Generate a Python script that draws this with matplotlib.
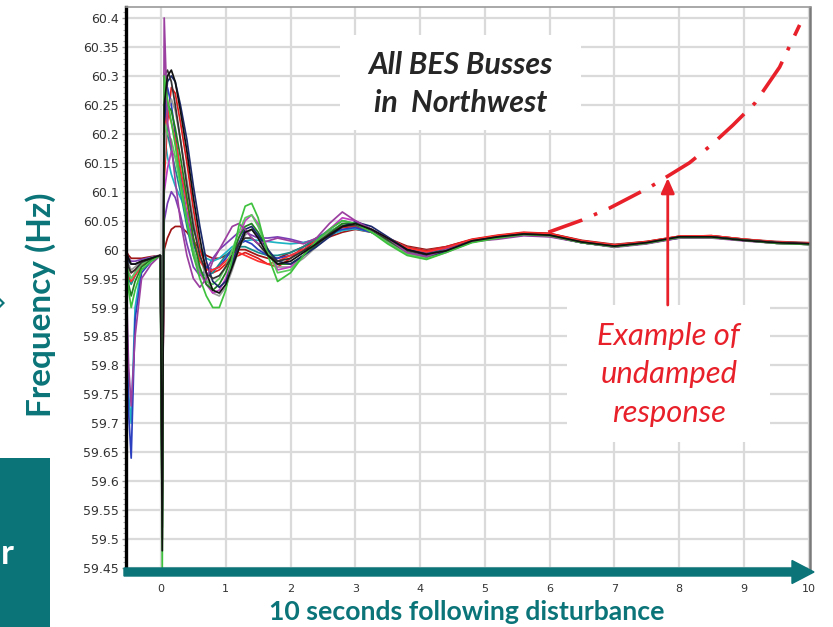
import matplotlib
matplotlib.use("Agg")
import matplotlib.pyplot as plt
from matplotlib.patches import FancyArrow, Rectangle, Polygon
from matplotlib.transforms import IdentityTransform
from matplotlib.ticker import MultipleLocator

# ---------------- data ----------------
time_s = [-0.55, -0.50, -0.46, -0.40, -0.30, -0.15, -0.01, 0.02, 0.05,
          0.10, 0.16, 0.22, 0.30, 0.40, 0.50, 0.60, 0.70, 0.80, 0.90,
          1.0, 1.1, 1.2, 1.3, 1.4, 1.5, 1.65, 1.8, 2.0, 2.2, 2.4, 2.6, 2.8,
          3.0, 3.25, 3.5, 3.8, 4.1, 4.4, 4.8, 5.2, 5.6, 6.0, 6.5, 7.0, 7.5,
          8.0, 8.5, 9.0, 9.5, 10.0]

freq_black = [60.0, 59.985, 59.975, 59.975, 59.98, 59.985, 59.99, 59.48, 60.25,
              60.30, 60.31, 60.29, 60.24, 60.17, 60.09, 60.02, 59.96, 59.93, 59.925,
              59.94, 59.97, 60.0, 60.03, 60.035, 60.02, 59.99, 59.975, 59.98, 59.995, 60.01, 60.025, 60.04,
              60.045, 60.035, 60.02, 60.0, 59.992, 59.998, 60.015, 60.022, 60.027, 60.025, 60.013, 60.006, 60.012,
              60.022, 60.022, 60.016, 60.012, 60.01]
freq_red = [60.0, 59.97, 59.96, 59.965, 59.975, 59.985, 59.99, 59.6, 60.12,
            60.22, 60.28, 60.27, 60.22, 60.15, 60.07, 60.0, 59.97, 59.96, 59.965,
            59.975, 59.985, 59.99, 59.995, 59.99, 59.985, 59.975, 59.97, 59.985, 60.005, 60.02, 60.03, 60.038,
            60.04, 60.03, 60.018, 60.004, 59.998, 60.005, 60.018, 60.025, 60.03, 60.028, 60.015, 60.008, 60.014,
            60.023, 60.024, 60.018, 60.013, 60.011]
freq_green = [60.0, 59.93, 59.90, 59.93, 59.965, 59.98, 59.99, 59.45, 60.30,
              60.26, 60.22, 60.18, 60.12, 60.05, 59.99, 59.95, 59.92, 59.90, 59.90,
              59.93, 59.985, 60.04, 60.075, 60.08, 60.055, 59.99, 59.945, 59.96, 59.99, 60.015, 60.035, 60.05,
              60.045, 60.03, 60.01, 59.99, 59.983, 59.995, 60.012, 60.02, 60.026, 60.024, 60.012, 60.005, 60.011,
              60.021, 60.021, 60.016, 60.011, 60.009]
freq_purple = [60.0, 59.8, 59.73, 59.85, 59.95, 59.975, 59.99, 59.57, 60.40,
               60.22, 60.18, 60.12, 60.05, 59.99, 59.95, 59.935, 59.95, 59.98, 60.0,
               60.02, 60.04, 60.045, 60.035, 60.02, 60.01, 60.015, 60.02, 60.015, 60.01, 60.02, 60.045, 60.065,
               60.05, 60.035, 60.02, 59.995, 59.988, 60.0, 60.014, 60.018, 60.024, 60.022, 60.012, 60.004, 60.01,
               60.02, 60.02, 60.015, 60.011, 60.009]
freq_blue = [60.0, 59.72, 59.64, 59.88, 59.96, 59.98, 59.99, 59.7, 60.18,
             60.28, 60.25, 60.2, 60.13, 60.06, 60.01, 59.98, 59.97, 59.965, 59.97,
             59.985, 60.0, 60.01, 60.015, 60.01, 60.0, 59.99, 59.985, 59.99, 60.0, 60.015, 60.028, 60.035,
             60.038, 60.03, 60.015, 60.0, 59.995, 60.003, 60.016, 60.022, 60.026, 60.024, 60.014, 60.007, 60.012,
             60.02, 60.021, 60.016, 60.012, 60.01]
freq_cyan = [60.0, 59.75, 59.70, 59.9, 59.97, 59.985, 59.99, 59.65, 60.2,
             60.16, 60.13, 60.11, 60.09, 60.065, 60.035, 60.005, 59.985, 59.98, 59.985,
             59.995, 60.005, 60.01, 60.015, 60.017, 60.016, 60.014, 60.012, 60.01, 60.012, 60.018, 60.025, 60.033,
             60.036, 60.03, 60.018, 60.004, 59.998, 60.004, 60.017, 60.023, 60.027, 60.025, 60.014, 60.008, 60.013,
             60.021, 60.022, 60.017, 60.013, 60.011]
freq_navy = [60.0, 59.98, 59.975, 59.975, 59.98, 59.985, 59.99, 59.55, 60.22,
             60.29, 60.30, 60.29, 60.25, 60.19, 60.11, 60.04, 59.98, 59.945, 59.935,
             59.945, 59.975, 60.01, 60.035, 60.04, 60.025, 60.0, 59.98, 59.975, 59.99, 60.005, 60.022, 60.04,
             60.048, 60.04, 60.022, 60.0, 59.99, 59.996, 60.014, 60.021, 60.026, 60.024, 60.012, 60.005, 60.011,
             60.021, 60.022, 60.016, 60.012, 60.01]
freq_magenta = [60.0, 59.96, 59.95, 59.96, 59.975, 59.985, 59.99, 59.6, 60.1,
                60.14, 60.17, 60.16, 60.12, 60.06, 60.0, 59.96, 59.94, 59.925, 59.93,
                59.95, 59.98, 60.02, 60.05, 60.06, 60.045, 60.0, 59.965, 59.97, 59.99, 60.01, 60.035, 60.055,
                60.05, 60.035, 60.015, 59.993, 59.985, 59.995, 60.013, 60.02, 60.025, 60.024, 60.012, 60.005, 60.011,
                60.021, 60.021, 60.016, 60.011, 60.009]
freq_darkred = [60.0, 59.99, 59.985, 59.985, 59.985, 59.988, 59.99, 59.7, 60.0,
                60.02, 60.035, 60.04, 60.04, 60.03, 60.015, 60.0, 59.99, 59.985, 59.985,
                59.99, 59.995, 60.0, 60.0, 59.995, 59.99, 59.985, 59.985, 59.995, 60.005, 60.015, 60.022, 60.03,
                60.035, 60.03, 60.02, 60.006, 60.0, 60.005, 60.017, 60.024, 60.029, 60.028, 60.016, 60.009, 60.014,
                60.023, 60.024, 60.018, 60.014, 60.012]
freq_teal = [60.0, 59.95, 59.94, 59.955, 59.975, 59.985, 59.99, 59.62, 60.25,
             60.2, 60.17, 60.14, 60.1, 60.04, 59.99, 59.96, 59.955, 59.96, 59.975,
             59.99, 60.0, 60.005, 60.005, 60.0, 59.995, 59.99, 59.99, 59.995, 60.005, 60.02, 60.032, 60.042,
             60.042, 60.033, 60.018, 60.0, 59.993, 60.0, 60.015, 60.022, 60.027, 60.025, 60.013, 60.006, 60.012,
             60.022, 60.023, 60.017, 60.012, 60.01]
freq_gray = [60.0, 59.975, 59.965, 59.97, 59.98, 59.986, 59.99, 59.65, 60.15,
             60.24, 60.26, 60.24, 60.19, 60.12, 60.05, 59.99, 59.95, 59.925, 59.92,
             59.935, 59.965, 60.0, 60.025, 60.035, 60.025, 59.995, 59.97, 59.97, 59.985, 60.005, 60.025, 60.042,
             60.045, 60.035, 60.018, 59.998, 59.99, 59.997, 60.014, 60.021, 60.026, 60.024, 60.013, 60.006, 60.012,
             60.021, 60.022, 60.016, 60.012, 60.01]
freq_darkgreen = [60.0, 59.94, 59.92, 59.945, 59.97, 59.983, 59.99, 59.52, 60.28,
                  60.25, 60.24, 60.21, 60.16, 60.09, 60.02, 59.97, 59.94, 59.93, 59.94,
                  59.96, 59.99, 60.02, 60.04, 60.045, 60.03, 60.0, 59.975, 59.975, 59.99, 60.008, 60.028, 60.045,
                  60.046, 60.035, 60.016, 59.996, 59.988, 59.997, 60.013, 60.021, 60.026, 60.024, 60.012, 60.005, 60.011,
                  60.021, 60.021, 60.016, 60.011, 60.009]
freq_violet = [60.0, 59.985, 59.98, 59.98, 59.983, 59.987, 59.99, 59.66, 60.05,
               60.08, 60.1, 60.09, 60.06, 60.01, 59.97, 59.955, 59.965, 59.985, 60.0,
               60.01, 60.02, 60.03, 60.03, 60.025, 60.02, 60.02, 60.022, 60.018, 60.012, 60.018, 60.035, 60.05,
               60.045, 60.032, 60.017, 59.997, 59.99, 59.998, 60.014, 60.02, 60.025, 60.023, 60.012, 60.005, 60.011,
               60.02, 60.021, 60.016, 60.011, 60.009]
freq_black2 = [60.0, 59.97, 59.96, 59.965, 59.978, 59.985, 59.99, 59.5, 60.3,
               60.31, 60.29, 60.25, 60.19, 60.11, 60.04, 59.99, 59.96, 59.95, 59.955,
               59.97, 59.99, 60.01, 60.02, 60.02, 60.01, 59.99, 59.98, 59.985, 59.998, 60.012, 60.027, 60.04,
               60.043, 60.034, 60.018, 59.999, 59.992, 59.999, 60.015, 60.022, 60.027, 60.025, 60.013, 60.006, 60.012,
               60.022, 60.022, 60.017, 60.012, 60.01]
freq_red2 = [60.0, 59.955, 59.945, 59.955, 59.973, 59.984, 59.99, 59.58, 60.2,
             60.24, 60.22, 60.19, 60.14, 60.08, 60.02, 59.98, 59.965, 59.965, 59.97,
             59.98, 59.99, 59.995, 59.99, 59.985, 59.98, 59.975, 59.98, 59.99, 60.0, 60.015, 60.03, 60.04,
             60.043, 60.035, 60.02, 60.003, 59.996, 60.003, 60.017, 60.024, 60.029, 60.027, 60.015, 60.008, 60.013,
             60.023, 60.024, 60.018, 60.013, 60.011]
freq_green2 = [60.0, 59.96, 59.95, 59.96, 59.975, 59.985, 59.99, 59.62, 60.22,
               60.2, 60.19, 60.16, 60.11, 60.05, 60.0, 59.965, 59.945, 59.94, 59.95,
               59.97, 60.0, 60.03, 60.055, 60.06, 60.04, 60.0, 59.96, 59.965, 59.99, 60.012, 60.03, 60.045,
               60.045, 60.032, 60.012, 59.992, 59.985, 59.996, 60.013, 60.021, 60.026, 60.024, 60.012, 60.005, 60.011,
               60.021, 60.021, 60.016, 60.011, 60.009]

traces = [freq_darkred, freq_violet, freq_cyan, freq_red, freq_teal, freq_blue,
          freq_gray, freq_red2, freq_magenta, freq_green2, freq_darkgreen,
          freq_navy, freq_black2, freq_purple, freq_green, freq_black]
trace_colors = ["#a01515", "#7b3fb5", "#1fb4c4", "#e01b1b", "#178c8c", "#2b3fbf",
                "#9a9a9a", "#ff3030", "#c03cc0", "#5ccc5c", "#1f7f1f",
                "#1b2a6b", "#333333", "#9b3fa0", "#3ec23e", "#111111"]

# undamped example (dash-dot)
undamped_t = [5.98, 6.50, 6.93, 7.55, 8.16, 8.50, 8.83, 9.17, 9.55, 9.86]
undamped_f = [60.030, 60.051, 60.072, 60.108, 60.150, 60.181, 60.215, 60.253, 60.315, 60.388]

ytick_vals = [59.45, 59.5, 59.55, 59.6, 59.65, 59.7, 59.75, 59.8, 59.85, 59.9, 59.95,
              60.0, 60.05, 60.1, 60.15, 60.2, 60.25, 60.3, 60.35, 60.4]
ytick_labels = ["59.45", "59.5", "59.55", "59.6", "59.65", "59.7", "59.75", "59.8", "59.85",
                "59.9", "59.95", "60", "60.05", "60.1", "60.15", "60.2", "60.25", "60.3",
                "60.35", "60.4"]
xtick_vals = [0, 1, 2, 3, 4, 5, 6, 7, 8, 9, 10]
xtick_labels = ["0", "1", "2", "3", "4", "5", "6", "7", "8", "9", "10"]

# ---------------- figure ----------------
W, H = 833, 627
TEAL = "#0a7479"
RED = "#e8202a"
fig = plt.figure(figsize=(W / 100, H / 100), dpi=100)
fig.patch.set_facecolor("white")

ax_l, ax_r, ax_t, ax_b = 126, 810, 7, 571
ax = fig.add_axes([ax_l / W, 1 - ax_b / H, (ax_r - ax_l) / W, (ax_b - ax_t) / H])
ax.set_xlim(-0.54, 10.02)
ax.set_ylim(59.445, 60.419)

ax.set_axisbelow(True)
ax.grid(True, color="#dadada", lw=1.6)
ax.set_xticks(xtick_vals)
ax.set_xticklabels(xtick_labels)
ax.set_yticks(ytick_vals)
ax.set_yticklabels(ytick_labels)
ax.yaxis.set_minor_locator(MultipleLocator(0.01))
ax.tick_params(axis="y", which="major", length=3, width=1, color="#999999",
               labelsize=9, labelcolor="#333333", pad=2)
ax.tick_params(axis="y", which="minor", length=2.5, width=0.8, color="#aaaaaa")
ax.tick_params(axis="x", which="major", length=0, labelsize=8,
               labelcolor="#333333", pad=9.5)
for lab in ax.get_yticklabels() + ax.get_xticklabels():
    lab.set_fontfamily("DejaVu Sans")

ax.spines["bottom"].set_visible(False)
ax.spines["left"].set_color("#000000")
ax.spines["left"].set_linewidth(2.4)
ax.spines["top"].set_color("#9a9a9a")
ax.spines["top"].set_linewidth(1.2)
ax.spines["right"].set_color("#7a7a7a")
ax.spines["right"].set_linewidth(1.8)


def px2x(px):
    return (px - 161.0) / 64.8


def px2y(py):
    return 60.4 - (py - 18.0) / 579.0


# white label boxes covering the grid
ax.add_patch(Rectangle((px2x(340), px2y(130)), px2x(581) - px2x(340), px2y(35) - px2y(130),
                       fc="white", ec="none", zorder=1.5))
ax.add_patch(Rectangle((px2x(567), px2y(442)), px2x(770) - px2x(567), px2y(305) - px2y(442),
                       fc="white", ec="none", zorder=1.5))

# frequency traces
for vals, col in zip(traces, trace_colors):
    ax.plot(time_s, vals, color=col, lw=1.25, zorder=2, solid_joinstyle="round")

# undamped dash-dot curve
ax.plot(undamped_t, undamped_f, color=RED, lw=2.6, linestyle=(0, (10, 3.5, 1, 3.5)),
        dash_capstyle="butt", zorder=4, clip_on=False)

# red arrow
ax.annotate("", xy=(px2x(668), px2y(178)), xytext=(px2x(668), px2y(305)),
            arrowprops=dict(arrowstyle="-|>,head_length=0.9,head_width=0.4",
                            color=RED, lw=2.0, shrinkA=0, shrinkB=0), zorder=5)

# texts in the plot
ax.text(px2x(461), px2y(74), "All BES Busses", ha="center", va="baseline",
        fontsize=21.8, fontfamily="Lato", fontweight="bold", fontstyle="italic",
        color="#262626", zorder=6)
ax.text(px2x(461), px2y(112), "in  Northwest", ha="center", va="baseline",
        fontsize=21.8, fontfamily="Lato", fontweight="bold", fontstyle="italic",
        color="#262626", zorder=6)
for txt, base in (("Example of", 345), ("undamped", 383), ("response", 422)):
    ax.text(px2x(669), px2y(base), txt, ha="center", va="baseline", fontsize=22.3,
            fontfamily="Lato", fontstyle="italic", color=RED, zorder=6)

# bottom teal axis arrow (pixel coordinates)
ident = IdentityTransform()
fig.add_artist(FancyArrow(124, H - 572, 690, 0, width=8, head_width=23, head_length=22,
                          length_includes_head=True, color=TEAL, transform=ident))

# axis titles
fig.text(467 / W, 1 - 620 / H, "10 seconds following disturbance", ha="center",
         va="baseline", fontsize=19.2, fontfamily="Lato", fontweight="bold", color=TEAL)
fig.text(41 / W, 1 - 305 / H, "Frequency (Hz)", ha="center", va="center", rotation=90,
         fontsize=24, fontfamily="Lato", fontweight="bold", color=TEAL)

# slide decorations at the left edge
fig.add_artist(Rectangle((0, 0), 50, H - 458, fc=TEAL, ec="none", transform=ident))
fig.text(1 / W, 1 - 564 / H, "r", ha="left", va="baseline", fontsize=25,
         fontfamily="Lato", fontweight="bold", color="white")
fig.add_artist(Polygon([(0, H - 298), (5, H - 303), (0, H - 308), (0, H - 305), (2, H - 303), (0, H - 301)],
                       closed=True, fc=TEAL, ec="none", transform=ident))

fig.savefig("out.png", dpi=100)
